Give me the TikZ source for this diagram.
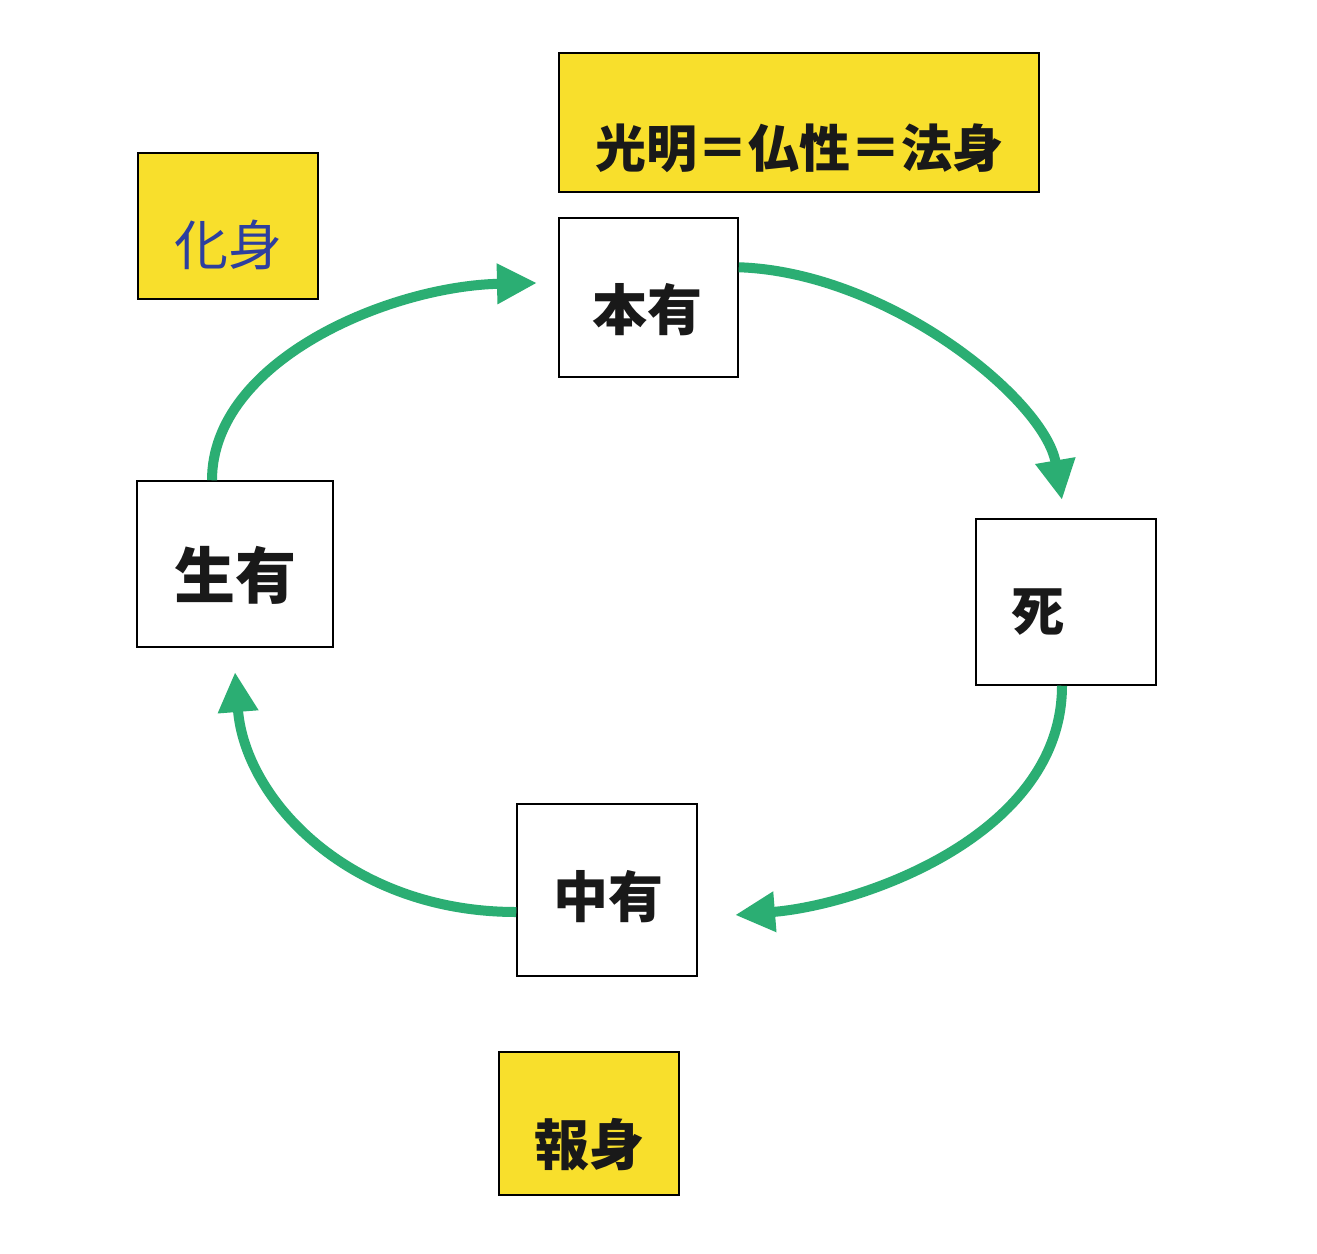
\documentclass[tikz,border=0pt]{standalone}
\usepackage{fontspec}
\newfontfamily\cjk{Noto Sans CJK JP}
\usetikzlibrary{arrows.meta}
\definecolor{ylw}{HTML}{F8DF2C}
\definecolor{grn}{HTML}{2BAE73}
\definecolor{blu}{HTML}{2D3F9E}
\tikzset{
  box/.style={draw=black, line width=1.5pt, fill=white, inner sep=0pt},
  ybox/.style={draw=black, line width=1.5pt, fill=ylw, inner sep=0pt},
  lbl/.style={font=\cjk\bfseries\fontsize{55}{60}\selectfont, text=black!90},
  flow/.style={draw=grn, line width=10pt, -{Triangle[length=40pt,width=38pt]}},
}
\begin{document}
\begin{tikzpicture}[x=1pt,y=-1pt]
\useasboundingbox[fill=white] (0,0) rectangle (1317,1253);
% boxes
\draw[ybox] (559,53) rectangle (1039,192);
\node[lbl, font=\cjk\bfseries\fontsize{51}{56}\selectfont] (hs) at (799,148) {光明＝仏性＝法身};
\draw[ybox] (138,153) rectangle (318,299);
\node[lbl, text=blu, font=\cjk\fontsize{54}{58}\selectfont] (ks) at (228,245) {化身};
\draw[ybox] (499,1052) rectangle (679,1195);
\node[lbl] (bs) at (589,1145) {報身};

\node[box, minimum width=179pt, minimum height=159pt] (hy) at (648.5,297.5) {};
\node[lbl] at (647,310) {本有};
\node[box, minimum width=196pt, minimum height=166pt] (sy) at (235,564) {};
\node[lbl, font=\cjk\bfseries\fontsize{61}{66}\selectfont] at (235,575) {生有};
\node[box, minimum width=180pt, minimum height=166pt] (si) at (1066,602) {};
\node[lbl, font=\cjk\bfseries\fontsize{53}{58}\selectfont] at (1038,612) {死};
\node[box, minimum width=180pt, minimum height=172pt] (cy) at (607,890) {};
\node[lbl] at (608,897) {中有};

% arrow tips
\coordinate (t1) at (537,283);
\coordinate (t2) at (1062,500);
\coordinate (t3) at (735,915);
\coordinate (t4) at (235,672);
% arrows
\draw[flow] ([xshift=-23pt]sy.north) .. controls +(0,-120) and (390,286) .. (t1);
\draw[flow] ([yshift=-50pt]hy.north east) .. controls +(150,5) and (1045,400) .. (t2);
\draw[flow] ([xshift=-4pt]si.south) .. controls +(0,150) and (860,905) .. (t3);
\draw[flow] ([yshift=-22pt]cy.west) .. controls (350,912) and (245,800) .. (t4);
\end{tikzpicture}
\end{document}
